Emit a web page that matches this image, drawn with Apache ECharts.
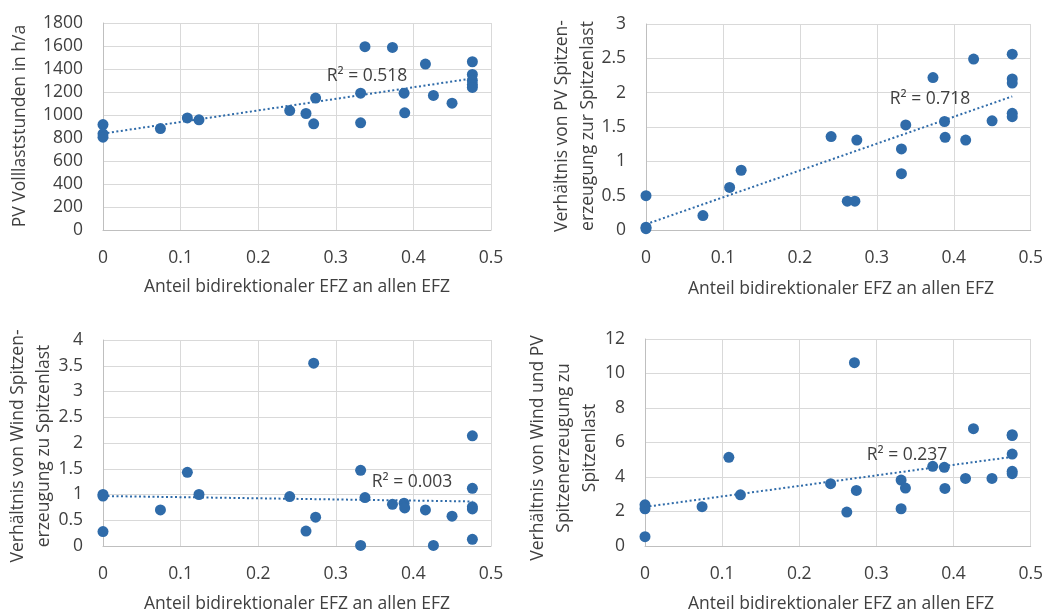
<!DOCTYPE html>
<html>
<head>
<meta charset="utf-8">
<script src="https://cdn.jsdelivr.net/npm/echarts@6/dist/echarts.min.js"></script>
<style>
html,body{margin:0;padding:0;background:#fff;}
#c{width:1046px;height:614px;}
</style>
</head>
<body>
<div id="c"></div>
<script>
// Share of bidirectional EFZ (x), common to all panels
var shareX = [0,0,0,0.074,0.1087,0.1237,0.2406,0.2616,0.2715,0.274,0.332,0.332,0.3376,0.373,0.388,0.3888,0.4155,0.4258,0.4498,0.476,0.476,0.476,0.476,0.476];
// Panel values
var pvHours    = [917,836,807,882,975,958,1039,1013,923,1147,1190,932,1594,1588,1190,1019,1443,1170,1103,1463,1353,1300,1265,1240];
var pvPeak     = [0.50,0.04,0.02,0.21,0.62,0.87,1.36,0.42,0.42,1.31,1.18,0.82,1.53,2.22,1.58,1.35,1.31,2.49,1.59,2.56,2.20,2.14,1.70,1.65];
var windPeak   = [1.00,0.97,0.28,0.70,1.43,1.00,0.96,0.29,3.55,0.56,1.47,0.01,0.94,0.81,0.83,0.74,0.70,0.01,0.58,2.14,1.12,0.76,0.72,0.13];
var windPvPeak = [2.39,2.16,0.54,2.28,5.14,2.97,3.61,1.97,10.63,3.22,3.82,2.16,3.36,4.62,4.56,3.34,3.92,6.80,3.92,6.45,5.33,4.33,4.19,6.40];
var r2Labels   = ['R² = 0.518','R² = 0.718','R² = 0.003','R² = 0.237'];
var xTitle = 'Anteil bidirektionaler EFZ an allen EFZ';
var yTitles = ['PV Volllaststunden in h/a',
  'Verhältnis von PV Spitzen-\nerzeugung zur Spitzenlast',
  'Verhältnis von Wind Spitzen-\nerzeugung zu Spitzenlast',
  'Verhältnis von Wind und PV\nSpitzenerzeugung zu\nSpitzenlast'];
var yMax = [1800, 3, 4, 12];
var yStep = [200, 0.5, 0.5, 2];

var panels = [pvHours, pvPeak, windPeak, windPvPeak];
var BLUE = '#2f6ba9';
var TXT = '#404040';
var FONT = "'Open Sans', sans-serif";
var FS = 17.5;

function trend(ys) {
  var n = shareX.length, sx=0, sy=0, sxx=0, sxy=0, xmin=Infinity, xmax=-Infinity;
  for (var i=0;i<n;i++){ var x=shareX[i], y=ys[i]; sx+=x; sy+=y; sxx+=x*x; sxy+=x*y; xmin=Math.min(xmin,x); xmax=Math.max(xmax,x); }
  var a=(n*sxy-sx*sy)/(n*sxx-sx*sx), b=(sy-a*sx)/n;
  return [[xmin, a*xmin+b],[xmax, a*xmax+b]];
}

var grids = [
  {left:103, top:23, width:388, height:207},
  {left:646, top:24, width:388, height:206},
  {left:103, top:340, width:388, height:206},
  {left:645, top:339, width:389, height:207}
];

function plain(v){ return String(Math.round(v*1000)/1000); }

var xAxes = [], yAxes = [], series = [];
for (var k=0;k<4;k++){
  xAxes.push({type:'value', gridIndex:k, min:0, max:0.5, interval:0.1,
    axisLine:{lineStyle:{color:'#bfbfbf'}}, axisTick:{show:false},
    splitLine:{lineStyle:{color:'#d9d9d9'}},
    axisLabel:{color:TXT, fontSize:FS, fontFamily:FONT, margin:19, formatter:plain}});
  yAxes.push({type:'value', gridIndex:k, min:0, max:yMax[k], interval:yStep[k],
    axisLine:{show:true, lineStyle:{color:'#bfbfbf'}}, axisTick:{show:false},
    splitLine:{lineStyle:{color:'#d9d9d9'}},
    axisLabel:{color:TXT, fontSize:FS, fontFamily:FONT, margin:20, formatter:plain}});
  var pts = shareX.map(function(x,i){return [x, panels[k][i]];});
  series.push({type:'scatter', xAxisIndex:k, yAxisIndex:k, data:pts, symbolSize:11,
    itemStyle:{color:BLUE, opacity:1}, z:3});
  series.push({type:'line', xAxisIndex:k, yAxisIndex:k, data:trend(panels[k]), symbol:'none',
    lineStyle:{color:BLUE, width:2, type:[2,2.5]}, z:4, silent:true});
}

var graphics = [];
var xTitlePos = [[297,287],[841,289],[297,604],[841,604]];
var yTitlePos = [[20,126],[575,126],[31,446],[564,448]];
var r2Pos = [[367,76],[930,99],[412,482],[907,455]];
for (var k=0;k<4;k++){
  graphics.push({type:'text', x:xTitlePos[k][0], y:xTitlePos[k][1],
    style:{text:xTitle, fill:TXT, font:FS+'px '+FONT, align:'center', verticalAlign:'middle'}});
  graphics.push({type:'text', x:yTitlePos[k][0], y:yTitlePos[k][1], rotation:Math.PI/2,
    style:{text:yTitles[k], fill:TXT, font:FS+'px '+FONT, align:'center', verticalAlign:'middle', lineHeight:26}});
  graphics.push({type:'text', x:r2Pos[k][0], y:r2Pos[k][1], z:10,
    style:{text:r2Labels[k], fill:TXT, font:FS+'px '+FONT, align:'center', verticalAlign:'middle'}});
}

var chart = echarts.init(document.getElementById('c'), null, {renderer:'canvas'});
chart.setOption({
  animation:false,
  backgroundColor:'#ffffff',
  grid:grids, xAxis:xAxes, yAxis:yAxes, series:series, graphic:graphics
});
</script>
</body>
</html>
